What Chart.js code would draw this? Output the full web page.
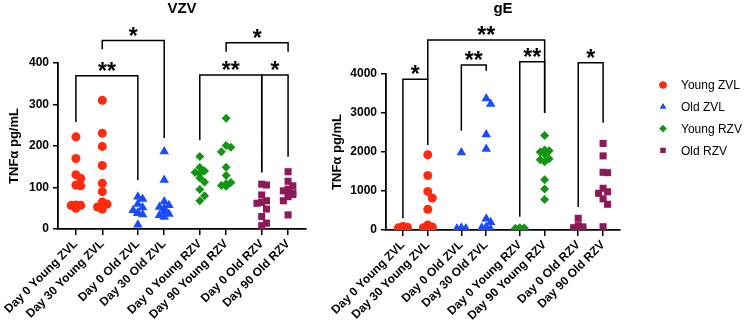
<!DOCTYPE html>
<html>
<head>
<meta charset="utf-8">
<script src="https://cdn.jsdelivr.net/npm/chart.js@4.4.0/dist/chart.umd.min.js"></script>
<style>
  body { margin: 0; background: #fff; }
  #wrap { position: relative; width: 745px; height: 326px; overflow: hidden; }
  .box { position: absolute; top: 0; }
</style>
</head>
<body>
<div id="wrap">
  <div class="box" style="left:0;width:320px;height:326px"><canvas id="vzv-plot" width="320" height="326"></canvas></div>
  <div class="box" style="left:320px;width:425px;height:326px"><canvas id="ge-plot" width="425" height="326"></canvas></div>
</div>
<script>
const categories = ["Day 0 Young ZVL", "Day 30 Young ZVL", "Day 0 Old ZVL", "Day 30 Old ZVL",
                    "Day 0 Young RZV", "Day 90 Young RZV", "Day 0 Old RZV", "Day 90 Old RZV"];
const groupNames = ["Young ZVL", "Old ZVL", "Young RZV", "Old RZV"];
const groupColors = ["#ff2a0c", "#1a4cff", "#129612", "#8c1a58"];
const groupStyles = ["circle", "triangle", "rectRot", "rect"];
const groupRadius = [4.5, 5.5, 4.5, 5];

// VZV, TNFa pg/mL
const vzvDay0YoungZVL  = [222, 170, 131, 122, 106, 104, 58, 57, 57, 50];
const vzvDay30YoungZVL = [310, 231, 199, 153, 110, 90, 65, 60, 53, 48];
const vzvDay0OldZVL    = [78, 72, 60, 52, 45, 40, 38, 35, 10];
const vzvDay30OldZVL   = [187, 118, 66, 57, 53, 50, 43, 36, 33, 29];
const vzvDay0YoungRZV  = [175, 148, 140, 136, 133, 123, 113, 95, 80, 68];
const vzvDay90YoungRZV = [267, 201, 197, 186, 149, 129, 112, 109, 105, 103];
const vzvDay0OldRZV    = [108, 106, 82, 68, 64, 62, 48, 30, 14, 8];
const vzvDay90OldRZV   = [138, 115, 104, 96, 92, 90, 87, 83, 78, 68, 34];

// gE, TNFa pg/mL
const geDay0YoungZVL  = [90, 70, 55, 40, 30, 25, 15, 10, 5, 0];
const geDay30YoungZVL = [1930, 1400, 990, 820, 530, 130, 80, 60, 40, 20];
const geDay0OldZVL    = [1990, 60, 40, 30, 20, 15, 10, 5, 0, 0];
const geDay30OldZVL   = [3370, 3230, 2450, 2080, 290, 200, 80, 60, 40, 20];
const geDay0YoungRZV  = [60, 50, 40, 35, 30, 25, 20, 15, 10, 5];
const geDay90YoungRZV = [2420, 2050, 2030, 2000, 1940, 1830, 1800, 1750, 1290, 1050, 780];
const geDay0OldRZV    = [300, 110, 80, 60, 50, 40, 30, 20, 10, 0];
const geDay90OldRZV   = [2220, 1900, 1480, 1470, 1070, 980, 940, 800, 660, 85];

// significance brackets: [from, to, bar value, left leg end, right leg end, stars]
const vzvBrackets = [
  [0, 2, 369, 258, 118, "**"],
  [1, 3, 454, 433, 219, "*"],
  [4, 6, 371, 214, 137, "**"],
  [6, 7, 371, 137, 174, "*"],
  [5, 7, 449, 427, 427, "*"]
];
const geBrackets = [
  [0, 1, 3864, 300, 2180, "*"],
  [1, 5, 4870, 3864, 3000, "**"],
  [2, 3, 4230, 2546, 4085, "**"],
  [4, 5, 4316, 340, 3000, "**"],
  [6, 7, 4290, 590, 2750, "*"]
];

// pairs of columns sit closer together than the groups
const catPos = categories.map((c, i) => i + 0.35 * Math.floor(i / 2));

// simple swarm: spread points that would overlap, least crowded slot wins
function swarm(values, pos, yThresh) {
  const placed = [];
  const order = values.map((v, i) => i).sort((a, b) => values[b] - values[a]);
  const steps = [0, 0.18, -0.18, 0.34, -0.34, 0.09, -0.09, 0.26, -0.26];
  const out = [];
  order.forEach(i => {
    const v = values[i];
    let best = 0, bestHits = Infinity;
    for (const s of steps) {
      const hits = placed.filter(p => Math.abs(p.y - v) < yThresh && Math.abs(p.dx - s) < 0.17).length;
      if (hits < bestHits) { bestHits = hits; best = s; }
      if (hits === 0) break;
    }
    placed.push({y: v, dx: best});
    out.push({x: pos + best, y: v});
  });
  return out;
}

const font = "'Liberation Sans', Arial, Helvetica, sans-serif";

const bracketPlugin = {
  id: 'brackets',
  afterDatasetsDraw(chart, args, opts) {
    const ctx = chart.ctx;
    const xs = chart.scales.x, ys = chart.scales.y;
    ctx.save();
    ctx.strokeStyle = '#000';
    ctx.lineWidth = 1.5;
    opts.list.forEach(b => {
      const x1 = xs.getPixelForValue(catPos[b[0]]);
      const x2 = xs.getPixelForValue(catPos[b[1]]);
      const y = ys.getPixelForValue(b[2]);
      ctx.beginPath();
      ctx.moveTo(x1, ys.getPixelForValue(b[3]));
      ctx.lineTo(x1, y);
      ctx.lineTo(x2, y);
      ctx.lineTo(x2, ys.getPixelForValue(b[4]));
      ctx.stroke();
      ctx.fillStyle = '#000';
      ctx.font = "bold 23px " + font;
      ctx.textAlign = 'center';
      ctx.textBaseline = 'alphabetic';
      ctx.fillText(b[5], (x1 + x2) / 2, y + 3);
    });
    ctx.restore();
  }
};

const legendPlugin = {
  id: 'sideLegend',
  afterDraw(chart, args, opts) {
    if (!opts.show) return;
    const ctx = chart.ctx;
    ctx.save();
    groupNames.forEach((name, i) => {
      const y = opts.top + i * opts.step;
      ctx.fillStyle = groupColors[i];
      Chart.helpers.drawPoint(ctx, {pointStyle: groupStyles[i], radius: 3.6, rotation: 0, borderWidth: 0}, opts.x, y);
      ctx.fill();
      ctx.fillStyle = '#000';
      ctx.font = "12px " + font;
      ctx.textAlign = 'left';
      ctx.textBaseline = 'middle';
      ctx.fillText(name, opts.x + 18, y + 1);
    });
    ctx.restore();
  }
};

function createDotPlot(canvasId, title, seriesList, yMax, yStep, brackets, cfg) {
  const datasets = seriesList.map((vals, i) => {
    const g = Math.floor(i / 2);
    return {
      label: categories[i],
      data: swarm(vals, catPos[i], yMax * 0.045),
      pointStyle: groupStyles[g],
      pointRadius: groupRadius[g],
      pointHoverRadius: groupRadius[g],
      backgroundColor: groupColors[g],
      borderColor: groupColors[g],
      borderWidth: 0,
      showLine: false
    };
  });

  return new Chart(canvasId, {
    type: 'scatter',
    data: { datasets: datasets },
    options: {
      responsive: false,
      animation: false,
      layout: { padding: cfg.padding },
      plugins: {
        legend: { display: false },
        tooltip: { enabled: false },
        title: {
          display: true,
          text: title,
          fullSize: false,
          color: '#000',
          font: { family: font, size: 15, weight: 'bold' },
          padding: { top: 0, bottom: cfg.titleGap }
        },
        brackets: { list: brackets },
        sideLegend: cfg.legend
      },
      scales: {
        x: {
          type: 'linear',
          min: -0.68,
          max: catPos[7] + 0.68,
          afterBuildTicks: (scale) => { scale.ticks = catPos.map(v => ({ value: v })); },
          afterFit: (scale) => { scale.height = cfg.xHeight; },
          grid: { drawOnChartArea: false, drawTicks: true, tickLength: 6, color: '#000', lineWidth: 1.5 },
          border: { color: '#000', width: 1.8 },
          ticks: {
            autoSkip: false,
            minRotation: 45,
            maxRotation: 45,
            padding: 2,
            color: '#000',
            font: { family: font, size: 12, weight: 'bold' },
            callback: (v, i) => categories[i]
          }
        },
        y: {
          min: 0,
          max: yMax,
          afterFit: (scale) => { scale.width = cfg.yWidth; },
          grid: { drawOnChartArea: false, drawTicks: true, tickLength: 5, color: '#000', lineWidth: 1.5 },
          border: { color: '#000', width: 1.8 },
          ticks: {
            stepSize: yStep,
            padding: 4,
            color: '#000',
            font: { family: font, size: 12, weight: 'bold' },
            callback: (v) => String(v)
          },
          title: {
            display: true,
            text: 'TNFα pg/mL',
            color: '#000',
            font: { family: font, size: 13, weight: 'bold' },
            padding: { top: cfg.yTitlePad, bottom: 0 }
          }
        }
      }
    },
    plugins: [bracketPlugin, legendPlugin]
  });
}

createDotPlot('vzv-plot', 'VZV',
  [vzvDay0YoungZVL, vzvDay30YoungZVL, vzvDay0OldZVL, vzvDay30OldZVL,
   vzvDay0YoungRZV, vzvDay90YoungRZV, vzvDay0OldRZV, vzvDay90OldRZV],
  400, 100, vzvBrackets,
  { padding: { left: 0, right: 14, top: 0, bottom: 0 }, titleGap: 45, xHeight: 97, yWidth: 58, yTitlePad: 7,
    legend: { show: false } });

createDotPlot('ge-plot', 'gE',
  [geDay0YoungZVL, geDay30YoungZVL, geDay0OldZVL, geDay30OldZVL,
   geDay0YoungRZV, geDay90YoungRZV, geDay0OldRZV, geDay90OldRZV],
  4000, 1000, geBrackets,
  { padding: { left: 0, right: 125, top: 0, bottom: 0 }, titleGap: 56, xHeight: 96, yWidth: 66, yTitlePad: 10,
    legend: { show: true, x: 343, top: 85, step: 21.8 } });
</script>
</body>
</html>
